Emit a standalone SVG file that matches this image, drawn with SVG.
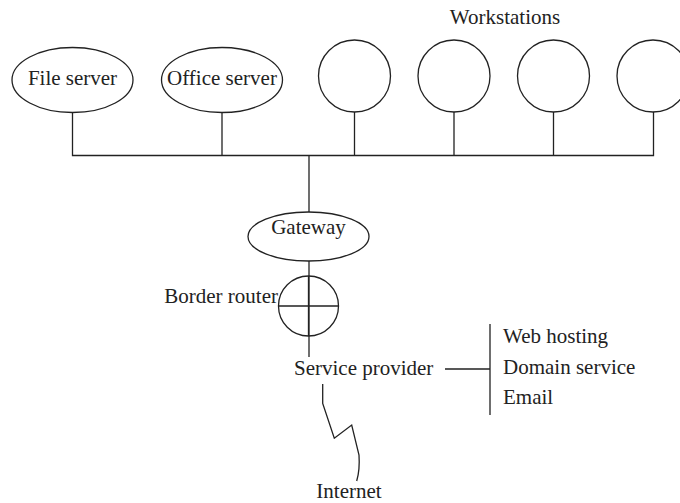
<svg xmlns="http://www.w3.org/2000/svg" width="680" height="503" viewBox="0 0 680 503">
<style>
.s{fill:none;stroke:#222;stroke-width:1.3}
.n{fill:#fff;stroke:#222;stroke-width:1.3}
text{font-family:"Liberation Serif","Times New Roman",serif;font-size:21px;fill:#222}
.m{text-anchor:middle}
</style>
<rect width="680" height="503" fill="#fff"/>
<g id="connectors" class="s">
<path d="M72.5,112.5V155.5H653.5V112M222,112.5V155.5M354.5,112V155.5M454,112V155.5M553.5,112V155.5M309,155.5V212M309,261V357M445,369H490M490,324V415"/>
<path d="M322.7,384V403.5L334.3,438.3L351.7,425L359,455Q360,470 356.7,481"/>
</g>
<g id="file-server"><ellipse class="n" cx="72.5" cy="80" rx="60.5" ry="32.5"/><text class="m" x="72.5" y="85">File server</text></g>
<g id="office-server"><ellipse class="n" cx="222" cy="80" rx="60.5" ry="32.5"/><text class="m" x="222" y="85">Office server</text></g>
<g id="workstations-label"><text class="m" x="505" y="24">Workstations</text></g>
<g id="ws1"><circle class="n" cx="354.5" cy="76" r="36"/></g>
<g id="ws2"><circle class="n" cx="454" cy="76" r="36"/></g>
<g id="ws3"><circle class="n" cx="553.5" cy="76" r="36"/></g>
<g id="ws4"><circle class="n" cx="653" cy="76" r="36"/></g>
<g id="gateway"><ellipse class="n" cx="308.5" cy="236.5" rx="60.5" ry="24.5"/><text class="m" x="308.5" y="234">Gateway</text></g>
<g id="border-router"><circle class="s" cx="308.5" cy="306" r="30"/><path class="s" d="M278.5,306H338.5M308.5,276V336"/><text x="278" y="303" text-anchor="end">Border router</text></g>
<g id="service-provider"><text x="294" y="375">Service provider</text></g>
<g id="services"><text x="503" y="343">Web hosting</text><text x="503" y="374">Domain service</text><text x="503" y="404">Email</text></g>
<g id="internet"><text class="m" x="349" y="498">Internet</text></g>
</svg>
